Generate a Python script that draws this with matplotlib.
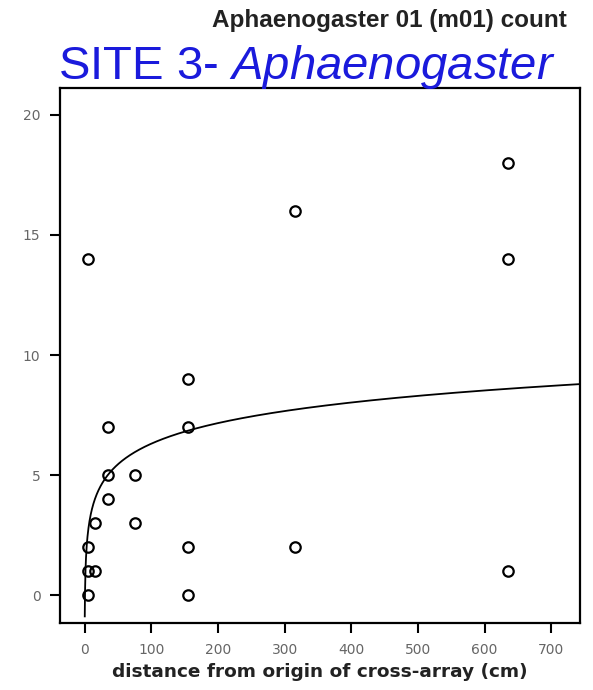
import numpy as np
import matplotlib.pyplot as plt

plt.rcParams['font.family'] = ['Liberation Sans', 'DejaVu Sans']
plt.rcParams['mathtext.fontset'] = 'custom'
plt.rcParams['mathtext.it'] = 'Liberation Sans:italic'
plt.rcParams['mathtext.rm'] = 'Liberation Sans'

# distance from origin (cm) and ant counts
dist = [5, 5, 5, 5, 15, 15, 35, 35, 35, 75, 75,
        155, 155, 155, 155, 315, 315, 635, 635, 635]
count = [0, 1, 2, 14, 1, 3, 4, 5, 7, 3, 5,
         0, 2, 7, 9, 2, 16, 1, 14, 18]

xticks = [0, 100, 200, 300, 400, 500, 600, 700]
yticks = [0, 5, 10, 15, 20]

# logarithmic fit y = a + b*ln(x)
b, a = np.polyfit(np.log(dist), count, 1)
xf = np.linspace(0.3, 745, 2000)
yf = a + b * np.log(xf)

fig = plt.figure(figsize=(5.93, 6.90), dpi=100)
ax = fig.add_axes([0.101, 0.097, 0.877, 0.775])

ax.plot(xf, yf, color="black", lw=1.3)
ax.plot(dist, count, "o", mfc="none", mec="black", mew=1.6, ms=7.5, ls="none")

ax.set_xlim(-37, 743)
ax.set_ylim(-1.15, 21.1)
ax.set_xticks(xticks)
ax.set_yticks(yticks)
ax.tick_params(labelsize=10, labelcolor="#666666", length=7, width=1.5, pad=7)
for lbl in ax.get_xticklabels() + ax.get_yticklabels():
    lbl.set_family("DejaVu Sans")
for s in ax.spines.values():
    s.set_linewidth(1.6)

ax.set_xlabel("distance from origin of cross-array (cm)", fontsize=13.3,
              fontweight="bold", color="#222222", labelpad=5, family="DejaVu Sans")

fig.text(0.956, 0.97, "Aphaenogaster 01 (m01) count", ha="right", va="center",
         fontsize=17.5, fontweight="bold", color="#222222")
fig.text(0.098, 0.903, r"SITE 3- $\mathit{Aphaenogaster}$", ha="left", va="center",
         fontsize=34, color="#1a1adc")

fig.savefig("out.png", dpi=100)
